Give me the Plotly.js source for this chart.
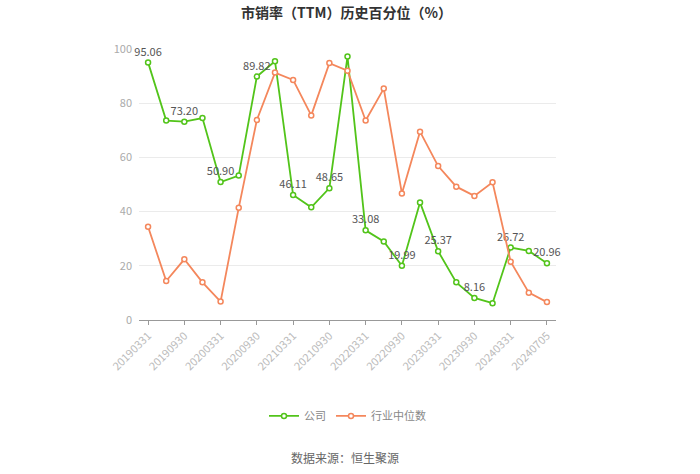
<!DOCTYPE html>
<html>
<head>
<meta charset="utf-8">
<script src="https://cdn.plot.ly/plotly-3.0.1.min.js"></script>
<style>html,body{margin:0;padding:0;background:#fff;}#chart{width:700px;height:474px;}</style>
</head>
<body>
<div id="chart"></div>
<script>
const dates = ["20190331","20190630","20190930","20191231","20200331","20200630","20200930","20201231",
  "20210331","20210630","20210930","20211231","20220331","20220630","20220930","20221231",
  "20230331","20230630","20230930","20231231","20240331","20240630","20240705"];
const companyValues = [95.06,73.6,73.20,74.5,50.90,53.3,89.82,95.5,46.11,41.6,48.65,97.2,33.08,29.0,19.99,43.4,25.37,13.9,8.16,6.2,26.72,25.5,20.96];
const industryMedian = [34.4,14.4,22.4,13.9,6.8,41.4,73.8,91.3,88.6,75.5,94.8,92.0,73.6,85.4,46.7,69.5,56.8,49.2,45.8,50.8,21.5,10.1,6.6];
const tickDates = ["20190331","20190930","20200331","20200930","20210331","20210930","20220331","20220930","20230331","20230930","20240331","20240705"];
const seriesNames = ["公司","行业中位数"];

const labelText = companyValues.map((v,i)=> i%2===0 ? v.toFixed(2) : "");
const cjk = '"Noto Sans CJK SC", "Noto Sans", sans-serif';

const traces = [
  {
    x: dates, y: companyValues, name: seriesNames[0], type: 'scatter', mode: 'lines+markers+text',
    text: labelText, textposition: 'top center', textfont: {family: cjk, size: 11, color: '#555'},
    line: {color: '#52c41a', width: 1.8},
    marker: {symbol: 'circle', size: 5, color: '#ffffff', line: {color: '#52c41a', width: 1.5}},
    cliponaxis: false
  },
  {
    x: dates, y: industryMedian, name: seriesNames[1], type: 'scatter', mode: 'lines+markers',
    line: {color: '#f4875c', width: 1.8},
    marker: {symbol: 'circle', size: 5, color: '#ffffff', line: {color: '#f4875c', width: 1.5}},
    cliponaxis: false
  }
];

const layout = {
  width: 700, height: 474,
  margin: {l: 139, r: 144, t: 49, b: 154},
  paper_bgcolor: '#fff', plot_bgcolor: '#fff',
  font: {family: cjk, color: '#999'},
  title: {text: '<b>市销率（TTM）历史百分位（%）</b>', x: 0.495, xanchor: 'center', y: 0.973, yanchor: 'middle',
    font: {family: cjk, size: 14, color: '#333'}},
  xaxis: {
    type: 'category', range: [-0.5, 22.5],
    tickmode: 'array', tickvals: tickDates, ticktext: tickDates,
    tickangle: -45, tickfont: {size: 11, color: '#bbb'},
    showgrid: false, showline: true, linecolor: '#999', linewidth: 1,
    ticks: 'outside', ticklen: 4, tickcolor: '#999', zeroline: false
  },
  yaxis: {
    range: [0, 100], tickvals: [0,20,40,60,80,100],
    tickfont: {size: 11, color: '#aaa'},
    showgrid: true, gridcolor: '#ebebeb', gridwidth: 1,
    showline: false, zeroline: false, ticks: '', ticklabelstandoff: 6
  },
  showlegend: true,
  legend: {orientation: 'h', x: 0.5, xanchor: 'center', y: -0.354, yanchor: 'middle',
    font: {family: cjk, size: 11, color: '#888'}, itemwidth: 30},
  annotations: [{
    text: '数据来源：恒生聚源', xref: 'paper', yref: 'paper', x: 0.495, y: -0.507,
    xanchor: 'center', yanchor: 'middle', showarrow: false,
    font: {family: cjk, size: 12, color: '#666'}
  }]
};

Plotly.newPlot('chart', traces, layout, {displayModeBar: false, staticPlot: true});
</script>
</body>
</html>
